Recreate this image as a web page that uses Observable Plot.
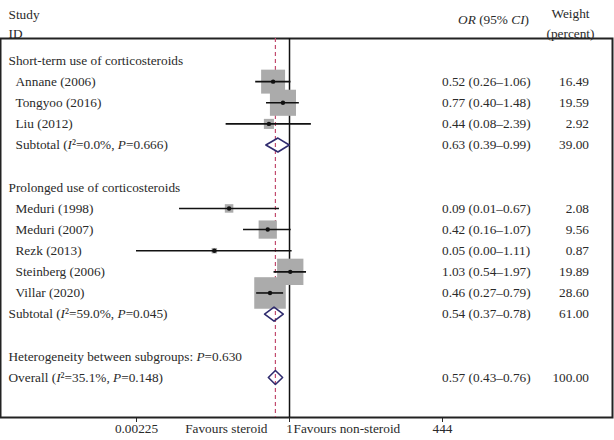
<!DOCTYPE html>
<html><head><meta charset="utf-8">
<script src="https://cdn.jsdelivr.net/npm/d3@7"></script>
<script src="https://cdn.jsdelivr.net/npm/@observablehq/plot@0.6"></script>
<style>
body{margin:0;background:#fff;}
#wrap{position:relative;width:614px;height:440px;overflow:hidden;}
#border{position:absolute;left:0;top:0;width:612px;height:418px;box-sizing:border-box;border:2px solid #8a8a8a;border-top-width:3px;pointer-events:none;}
</style></head>
<body><div id="wrap"><div id="border"></div></div>
<script>
// ---- data ----
const labels = [
  "Short-term use of corticosteroids",
  "Annane (2006)",
  "Tongyoo (2016)",
  "Liu (2012)",
  "Subtotal (I²=0.0%, P=0.666)",
  "Prolonged use of corticosteroids",
  "Meduri (1998)",
  "Meduri (2007)",
  "Rezk (2013)",
  "Steinberg (2006)",
  "Villar (2020)",
  "Subtotal (I²=59.0%, P=0.045)",
  "Heterogeneity between subgroups: P=0.630",
  "Overall (I²=35.1%, P=0.148)"
];
const rowIndex = [0, 1, 2, 3, 4, 6, 7, 8, 9, 10, 11, 12, 14, 15];
const kinds = ["group","study","study","study","subtotal","group","study","study","study","study","study","subtotal","note","overall"];
const groupOf = [0,0,0,0,0,1,1,1,1,1,1,1,2,2];
const orEst  = [null, 0.52, 0.77, 0.44, 0.63, null, 0.09,   0.42, 0.05,   1.03, 0.46, 0.54, null, 0.57];
const ciLow  = [null, 0.26, 0.40, 0.08, 0.39, null, 0.0125, 0.16, 0.0004, 0.54, 0.27, 0.37, null, 0.43];
const ciHigh = [null, 1.06, 1.48, 2.39, 0.99, null, 0.67,   1.07, 1.11,   1.97, 0.79, 0.78, null, 0.76];
const weights = [null, 16.49, 19.59, 2.92, 39.00, null, 2.08, 9.56, 0.87, 19.89, 28.60, 61.00, null, 100.00];
const tickValues = [0.00225, 1, 444];
const tickLabels = ["0.00225", "1", "444"];
const overallOR = 0.57;

// ---- build table ----
const table = labels.map((label, i) => ({
  label, row: rowIndex[i], kind: kinds[i], group: groupOf[i],
  or: orEst[i], lo: ciLow[i], hi: ciHigh[i], w: weights[i]
}));
const studies = table.filter(d => d.kind === "study");
const pooled = table.filter(d => d.kind === "subtotal" || d.kind === "overall");
const withCI = table.filter(d => d.or != null);
const ticks = tickValues.map((v, i) => ({v, label: tickLabels[i]}));
const diamondHalf = 0.33;
const diamonds = pooled.flatMap((d, k) => [
  {id: k, x: d.lo, y: d.row},
  {id: k, x: d.or, y: d.row - diamondHalf},
  {id: k, x: d.hi, y: d.row},
  {id: k, x: d.or, y: d.row + diamondHalf},
  {id: k, x: d.lo, y: d.row}
]);
const indent = d => (d.kind === "study" || (d.kind === "subtotal" && d.group === 0)) ? 15 : 8;
const fmt = v => v.toFixed(2);

const textColor = "#2a2a2a";
const chart = Plot.plot({
  width: 614,
  height: 440,
  marginTop: 38,
  marginBottom: 23,
  marginLeft: 0,
  marginRight: 2,
  style: {fontFamily: "'Liberation Serif', 'Times New Roman', serif", fontSize: "13.3px", color: textColor, background: "white"},
  x: {type: "log", domain: [0.00225, 444], range: [136, 442], clamp: true,
      ticks: tickValues, tickFormat: () => "", tickSize: 5, label: null},
  y: {domain: [0, 15], range: [60, 377], axis: null},
  r: {type: "sqrt", domain: [0, 28.6], range: [0, 17.8]},
  marks: [
    Plot.frame({stroke: "#222", strokeWidth: 2}),
    Plot.ruleX([overallOR], {stroke: "#c24b6e", strokeWidth: 1.2, strokeDasharray: "4,3"}),
    Plot.ruleX([1], {stroke: "#111", strokeWidth: 1.5}),
    Plot.dot(studies, {x: "or", y: "row", r: "w", symbol: "square", fill: "#ababab", stroke: null}),
    Plot.ruleY(studies, {y: "row", x1: "lo", x2: "hi", stroke: "#111", strokeWidth: 1.6}),
    Plot.dot(studies, {x: "or", y: "row", r: 2.2, fill: "#111", stroke: null}),
    Plot.line(diamonds, {x: "x", y: "y", z: "id", stroke: "#2f2b6e", strokeWidth: 1.6, curve: "linear"}),
    // left column
    Plot.text(table, {y: "row", text: "label", frameAnchor: "left", textAnchor: "start", fill: textColor}),
    // right columns
    Plot.text(withCI, {y: "row", text: d => `${fmt(d.or)} (${fmt(d.lo)}–${fmt(d.hi)})`, frameAnchor: "left", textAnchor: "start", dx: 441.5, fill: textColor}),
    Plot.text(withCI, {y: "row", text: d => fmt(d.w), frameAnchor: "left", textAnchor: "end", dx: 588.5, fill: textColor}),
    // headers
    Plot.text(["Study"], {frameAnchor: "top-left", textAnchor: "start", dx: 8, dy: -29, fill: textColor}),
    Plot.text(["ID"], {frameAnchor: "top-left", textAnchor: "start", dx: 8, dy: -10, fill: textColor}),
    Plot.text(["OR (95% CI)"], {frameAnchor: "top-left", textAnchor: "end", dx: 528.5, dy: -24, fill: textColor}),
    Plot.text(["Weight"], {frameAnchor: "top-left", textAnchor: "middle", dx: 570, dy: -30, fill: textColor}),
    Plot.text(["(percent)"], {frameAnchor: "top-left", textAnchor: "middle", dx: 570, dy: -10, fill: textColor}),
    // tick labels
    Plot.text(ticks, {x: "v", text: "label", frameAnchor: "bottom", textAnchor: "middle", dy: 15, fill: textColor}),
    // favours labels
    Plot.text([1], {x: d => d, text: () => "Favours steroid", frameAnchor: "bottom", textAnchor: "end", dx: -22, dy: 15, fill: textColor}),
    Plot.text([1], {x: d => d, text: () => "Favours non-steroid", frameAnchor: "bottom", textAnchor: "start", dx: 4, dy: 15, fill: textColor})
  ]
});

document.getElementById("wrap").appendChild(chart);
const svg = d3.select(chart.tagName.toLowerCase() === "svg" ? chart : chart.querySelector("svg"));
svg.style("position", "absolute").style("left", "0").style("top", "0");

// apply indentation & italics
svg.selectAll("text").each(function() {
  const node = this;
  const s = node.textContent;
  const row = table.find(d => d.label === s);
  if (row) {
    node.setAttribute("x", (parseFloat(node.getAttribute("x") || 0) + indent(row)));
  }
  const re = /(\bI(?=²)|\bP(?==)|\bOR\b|\bCI\b)/;
  if (!re.test(s)) return;
  const parts = s.split(re).filter(p => p !== "");
  while (node.firstChild) node.removeChild(node.firstChild);
  for (const p of parts) {
    const t = document.createElementNS("http://www.w3.org/2000/svg", "tspan");
    t.textContent = p;
    if (/^(I|P|OR|CI)$/.test(p)) t.setAttribute("font-style", "italic");
    node.appendChild(t);
  }
});
</script>
</body></html>
